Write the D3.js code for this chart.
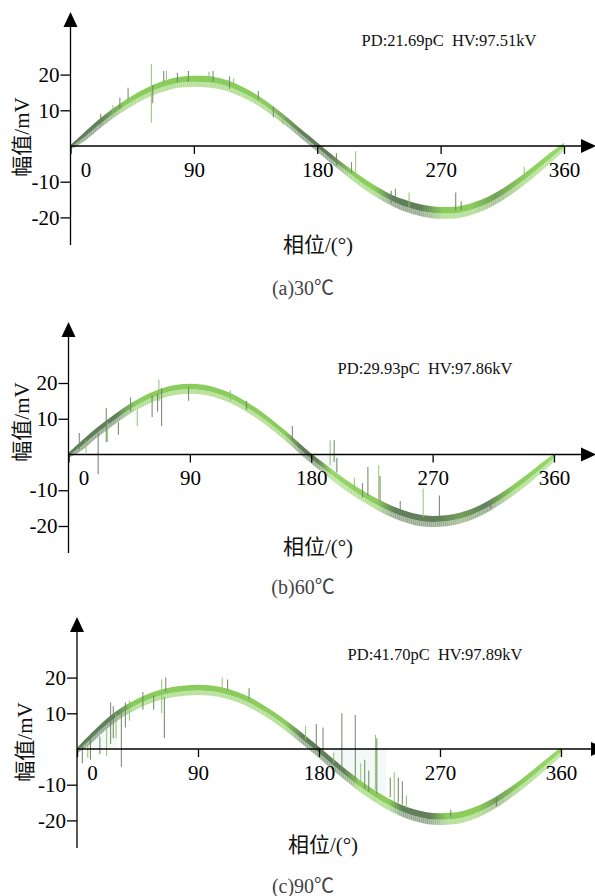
<!DOCTYPE html>
<html>
<head>
<meta charset="utf-8">
<script src="https://cdn.jsdelivr.net/npm/d3@7"></script>
<style>
  body { margin: 0; background: #fff; }
  svg { display: block; }
  text { font-family: "Liberation Serif", "Times New Roman", "Noto Sans CJK SC", serif; white-space: pre; }
</style>
</head>
<body>
<svg id="chart" width="595" height="896"></svg>
<script>
// phase samples (deg) and axis ticks
const phases = [0, 10, 20, 30, 40, 50, 60, 70, 80, 90, 100, 110, 120, 130, 140, 150, 160, 170, 180,
                190, 200, 210, 220, 230, 240, 250, 260, 270, 280, 290, 300, 310, 320, 330, 340, 350, 360];
const xTicks = [0, 90, 180, 270, 360];
const yTicks = [20, 10, -10, -20];

// (a) 30℃ : top and bottom edge of the trace band (mV)
const upperA = [0.3, 3.8, 7.2, 10.2, 12.9, 15.2, 17.1, 18.5, 19.4, 19.7, 19.6, 18.9, 17.6, 15.7, 13.3, 10.5, 7.4, 4.1, 1.0,
                -2.2, -5.2, -8.0, -10.6, -12.8, -14.6, -15.8, -16.7, -17.1, -17.0, -16.3, -15.0, -13.1, -10.7, -8.0, -5.0, -1.9, 0.9];
const lowerA = [-1.0, 1.3, 4.5, 7.5, 10.0, 12.3, 14.2, 15.5, 16.4, 16.6, 16.4, 15.8, 14.5, 12.8, 10.5, 7.8, 4.8, 1.6, -1.6,
                -4.8, -7.9, -10.9, -13.6, -15.9, -17.8, -19.1, -20.0, -20.4, -20.3, -19.6, -18.3, -16.4, -14.0, -11.2, -8.1, -4.8, -1.4];
// spikes: [phase, from mV, to mV]
const spikesA = [[22, 9, 6], [31, 11.5, 8.5], [36, 13.5, 10.5], [42, 16.3, 13], [59, 23, 6.5], [60, 17, 12],
                 [68, 21, 18], [70, 21, 18], [78, 20.5, 18], [86, 21, 18], [101, 20.8, 18], [104, 21, 18],
                 [116, 19.5, 16], [119, 19, 16.5], [137, 15.5, 13], [148, 11, 8], [155, 9, 6],
                 [194, -2, -5.5], [205, -4.5, -7.5], [208, -1.5, -7.5], [234, -12.5, -16], [237, -12, -16],
                 [247, -13, -17.5], [281, -13, -18], [285, -15.5, -18], [331, -5.8, -9.5]];
const hazeA = [];

// (b) 60℃
const upperB = [0.5, 3.9, 7.2, 10.1, 12.8, 15.2, 17.1, 18.6, 19.5, 19.8, 19.5, 18.6, 17.2, 15.2, 12.8, 10.0, 6.9, 3.6, 0.3,
                -2.6, -5.5, -8.1, -10.5, -12.6, -14.4, -15.8, -16.8, -17.2, -17.0, -16.3, -15.0, -13.2, -11.0, -8.4, -5.6, -2.6, 0.3];
const lowerB = [-1.0, 1.2, 4.4, 7.3, 10.0, 12.4, 14.3, 15.8, 16.7, 17.0, 16.7, 15.8, 14.4, 12.4, 10.0, 7.2, 4.1, 0.8, -2.5,
                -5.5, -8.5, -11.2, -13.6, -15.8, -17.6, -19.0, -20.0, -20.3, -20.1, -19.4, -18.1, -16.3, -14.0, -11.4, -8.5, -5.4, -2.0];
const spikesB = [[8, 6, 1.5], [13, 4, 0.5], [22, 6, -5.5], [28, 13, 3.5], [29, 9, 3.5], [37, 9, 5.5], [46, 16, 12],
                 [51, 12.5, 8], [62, 16.5, 10.5], [66, 17, 12], [67, 21, 15], [69, 18.5, 8], [89, 19, 15],
                 [120, 18, 15], [132, 15, 12.5], [166, 8, 4],
                 [194, 4, -3], [197, 4, -2], [199, -1, -5], [212, -6.5, -10], [218, -8, -12], [222, -3.5, -11.5],
                 [230, -3, -14], [231, -6, -13], [246, -13, -16.5], [263, -9.5, -17.5], [275, -11.5, -17.5], [313, -13, -15]];
const hazeB = [[180, 200]];

// (c) 90℃
const upperC = [0.3, 4.2, 7.8, 10.8, 13.1, 15.0, 16.4, 17.3, 17.8, 18.0, 17.8, 17.1, 15.9, 14.2, 12.0, 9.5, 6.7, 3.7, 0.6,
                -2.6, -5.7, -8.6, -11.2, -13.5, -15.4, -16.8, -17.7, -18.0, -17.8, -17.0, -15.6, -13.7, -11.3, -8.6, -5.6, -2.5, 0.5];
const lowerC = [-1.2, 1.4, 4.9, 7.9, 10.2, 12.1, 13.5, 14.4, 14.9, 15.1, 14.9, 14.2, 13.0, 11.3, 9.1, 6.6, 3.7, 0.6, -2.5,
                -5.8, -8.9, -11.9, -14.5, -16.8, -18.7, -20.1, -21.0, -21.3, -21.1, -20.3, -18.9, -16.9, -14.4, -11.6, -8.6, -5.4, -2.0];
const spikesC = [[4, 1, -4], [8, 2, -2.5], [10, 3, -3], [17, 3.5, -1.5], [22, 5.5, -2], [25, 13, 1.5], [27, 12, 3],
                 [29, 10, 3], [33, 10, -5], [36, 13, 6], [39, 13.5, 8], [49, 16, 11], [57, 15, 11],
                 [63, 19.5, 10], [65, 14.5, 3], [66, 20, 16], [108, 20, 17], [112, 19.5, 16.5], [128, 17, 14],
                 [170, 6.5, 2.5], [178, 7, 0], [183, 6, -1], [191, -1, -4], [197, 10, -6], [207, 9.5, -8.5],
                 [211, -4, -10], [214, -3, -11], [217, -6, -12], [222, 4, -11.5], [223, 3, -12.5], [233, -8, -13.5],
                 [236, -6.5, -15], [239, -8, -15], [242, -9, -15.5], [245, -13, -16.5], [278, -17, -19], [312, -13.5, -16]];
const hazeC = [[0, 30], [185, 235]];

const pdTexts = ["PD:21.69pC  HV:97.51kV", "PD:29.93pC  HV:97.86kV", "PD:41.70pC  HV:97.89kV"];
const captions = ["(a)30℃", "(b)60℃", "(c)90℃"];
const yTitle = "幅值/mV";
const xTitle = "相位/(°)";

const DARK = "#617f5a", LIGHT = "#8acd5c", MID = "#74a05a", PALE = "#98d86c";

const panels = [
  { upper: upperA, lower: lowerA, spikes: spikesA, haze: hazeA, pd: pdTexts[0], caption: captions[0],
    x0: 70.5, x1: 564, y0: 146, per10: 35.7, yTop: 12, yBottom: 245, xEnd: 596,
    pdPos: [449, 46], yTitlePos: [22, 137], xTitlePos: [318, 252], capPos: [303, 295],
    stops: [[0, DARK], [22, DARK], [40, LIGHT], [145, LIGHT], [168, DARK], [190, DARK], [205, LIGHT], [222, LIGHT],
            [235, DARK], [255, DARK], [272, LIGHT], [292, LIGHT], [310, MID], [330, LIGHT], [360, PALE]] },
  { upper: upperB, lower: lowerB, spikes: spikesB, haze: hazeB, pd: pdTexts[1], caption: captions[1],
    x0: 68.5, x1: 554, y0: 454.5, per10: 35.75, yTop: 322, yBottom: 553, xEnd: 596,
    pdPos: [425, 374], yTitlePos: [22, 422], xTitlePos: [318, 554], capPos: [303, 594],
    stops: [[0, DARK], [35, DARK], [50, LIGHT], [160, LIGHT], [172, DARK], [184, DARK], [195, PALE], [228, LIGHT],
            [242, DARK], [275, DARK], [290, MID], [310, DARK], [330, LIGHT], [360, PALE]] },
  { upper: upperC, lower: lowerC, spikes: spikesC, haze: hazeC, pd: pdTexts[2], caption: captions[2],
    x0: 77, x1: 561, y0: 749, per10: 35.7, yTop: 617, yBottom: 848, xEnd: 606,
    pdPos: [435, 660], yTitlePos: [25, 742], xTitlePos: [323, 852], capPos: [303, 893],
    stops: [[0, DARK], [28, DARK], [42, LIGHT], [155, LIGHT], [168, DARK], [198, DARK], [210, LIGHT], [232, LIGHT],
            [242, DARK], [262, DARK], [275, LIGHT], [298, LIGHT], [312, MID], [330, LIGHT], [360, PALE]] }
];

const svg = d3.select("#chart");
const defs = svg.append("defs");

// fine vertical hair texture for the noisy lower fringe
const pat = defs.append("pattern").attr("id", "hair")
    .attr("patternUnits", "userSpaceOnUse").attr("width", 2).attr("height", 5);
pat.append("rect").attr("x", 0).attr("y", 0).attr("width", 0.8).attr("height", 5)
    .attr("fill", "#ffffff").attr("opacity", 0.28);

panels.forEach((p, i) => {
  const x = d3.scaleLinear().domain([0, 360]).range([p.x0, p.x1]);
  const y = d3.scaleLinear().domain([-20, 20]).range([p.y0 + 2 * p.per10, p.y0 - 2 * p.per10]);
  const g = svg.append("g");

  const grad = defs.append("linearGradient").attr("id", "grad" + i)
      .attr("gradientUnits", "userSpaceOnUse")
      .attr("x1", x(0)).attr("x2", x(360)).attr("y1", 0).attr("y2", 0);
  p.stops.forEach(s => grad.append("stop").attr("offset", s[0] / 360).attr("stop-color", s[1]));

  const pts = phases.map((ph, k) => ({ ph, up: p.upper[k], lo: p.lower[k], mid: p.upper[k] - (p.upper[k] - p.lower[k]) * 0.55 }));

  // faint haze where the discharge pulses are dense
  p.haze.forEach(([a, b]) => {
    const sub = pts.filter(d => d.ph >= a && d.ph <= b);
    g.append("path").datum(sub)
      .attr("d", d3.area().x(d => x(d.ph)).y0(y(0)).y1(d => y(d.up)).curve(d3.curveMonotoneX))
      .attr("fill", "#eef7f3").attr("opacity", 0.7);
  });

  // fringe
  const fringe = d3.area().x(d => x(d.ph)).y0(d => y(d.lo)).y1(d => y(d.mid)).curve(d3.curveMonotoneX);
  g.append("path").datum(pts).attr("d", fringe)
    .attr("fill", `url(#grad${i})`).attr("opacity", 0.65);
  g.append("path").datum(pts).attr("d", fringe).attr("fill", "url(#hair)");

  // core band
  g.append("path").datum(pts)
    .attr("d", d3.area().x(d => x(d.ph)).y0(d => y(d.mid)).y1(d => y(d.up)).curve(d3.curveMonotoneX))
    .attr("fill", `url(#grad${i})`);

  // spikes
  g.selectAll(".spike").data(p.spikes).join("line")
    .attr("x1", d => x(d[0])).attr("x2", d => x(d[0]))
    .attr("y1", d => y(d[1])).attr("y2", d => y(d[2]))
    .attr("stroke", (d, k) => k % 3 === 1 ? "#8fc56c" : "#6f8466")
    .attr("stroke-width", 1.1).attr("opacity", 0.9);

  // y axis
  const yAx = g.append("g").attr("transform", `translate(${x(0)},0)`)
    .call(d3.axisLeft(y).tickValues(yTicks).tickSize(10).tickPadding(1).tickFormat(d => String(d)));
  yAx.select(".domain").remove();
  yAx.selectAll("line").attr("stroke", "#000").attr("stroke-width", 1.3);
  yAx.selectAll("text").attr("font-size", 21).attr("fill", "#000");
  g.append("line").attr("x1", x(0)).attr("x2", x(0)).attr("y1", p.yTop + 12).attr("y2", p.yBottom)
    .attr("stroke", "#000").attr("stroke-width", 1.3);
  g.append("path")
    .attr("d", `M${x(0)},${p.yTop} L${x(0) - 7},${p.yTop + 15} L${x(0) + 7},${p.yTop + 15} Z`)
    .attr("fill", "#000");

  // x axis
  const xAx = g.append("g").attr("transform", `translate(0,${y(0)})`)
    .call(d3.axisBottom(x).tickValues(xTicks).tickSize(8).tickPadding(8));
  xAx.select(".domain").remove();
  xAx.selectAll("line").attr("stroke", "#000").attr("stroke-width", 1.3);
  xAx.selectAll("text").attr("font-size", 21).attr("fill", "#000")
    .attr("dx", d => d === 0 ? 15 : 0);
  g.append("line").attr("x1", x(0)).attr("x2", p.xEnd - 12).attr("y1", y(0)).attr("y2", y(0))
    .attr("stroke", "#000").attr("stroke-width", 1.3);
  g.append("path")
    .attr("d", `M${p.xEnd},${y(0)} L${p.xEnd - 15},${y(0) - 7} L${p.xEnd - 15},${y(0) + 7} Z`)
    .attr("fill", "#000");

  // texts
  g.append("text").attr("x", p.pdPos[0]).attr("y", p.pdPos[1]).attr("text-anchor", "middle")
    .attr("font-size", 16.5).attr("fill", "#111").text(p.pd);
  g.append("text").attr("transform", `translate(${p.yTitlePos[0]},${p.yTitlePos[1]}) rotate(-90)`)
    .attr("text-anchor", "middle").attr("dy", "0.35em").attr("font-size", 21).attr("fill", "#111").text(yTitle);
  g.append("text").attr("x", p.xTitlePos[0]).attr("y", p.xTitlePos[1]).attr("text-anchor", "middle")
    .attr("font-size", 21).attr("fill", "#111").text(xTitle);
  g.append("text").attr("x", p.capPos[0]).attr("y", p.capPos[1]).attr("text-anchor", "middle")
    .attr("font-size", 20).attr("fill", "#444").text(p.caption);
});
</script>
</body>
</html>
